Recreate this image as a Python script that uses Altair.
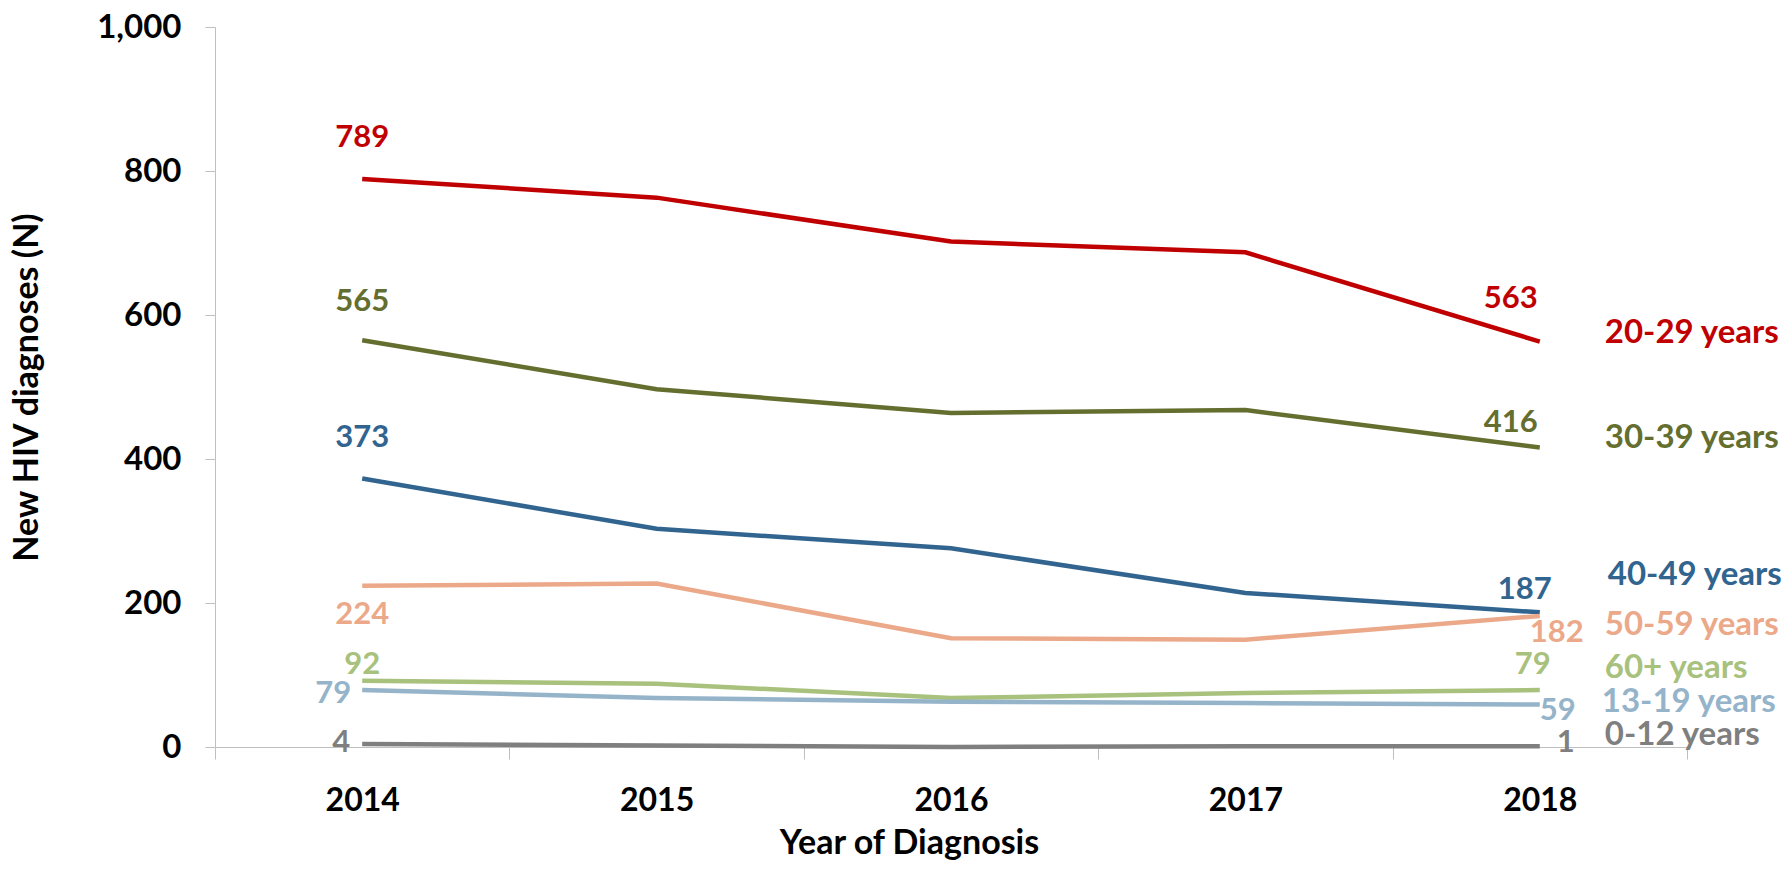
import altair as alt
import pandas as pd

years = ["2014", "2015", "2016", "2017", "2018"]
series = ["20-29 years", "30-39 years", "40-49 years", "50-59 years",
          "60+ years", "13-19 years", "0-12 years"]
v_20_29 = [789, 763, 702, 687, 563]
v_30_39 = [565, 497, 464, 468, 416]
v_40_49 = [373, 303, 276, 214, 187]
v_50_59 = [224, 227, 151, 149, 182]
v_60p = [92, 88, 68, 75, 79]
v_13_19 = [79, 68, 63, 61, 59]
v_0_12 = [4, 2, 0, 1, 1]
values = [v_20_29, v_30_39, v_40_49, v_50_59, v_60p, v_13_19, v_0_12]
colors = ["#C00000", "#646E2E", "#31648F", "#ECA98A", "#A8C17C", "#95B4CA", "#7F7F7F"]
# y value (data units) at which each series name is written on the right
name_anchor = [575, 429, 239, 169, 110, 62, 17]

# pixel offsets of the value labels (first year, last year)
first_off = [(0, -41), (0, -38), (0, -40), (0, 29), (0, -16), (-29, 4), (-21, -1)]
last_off = [(-29, -43), (-29, -24), (-15, -22), (17, 17), (-7, -25), (18, 6), (26, -3)]
name_dx = [65, 65, 68, 65, 65, 62, 65]

FONT = "Lato"
rows = []
for s, vals in zip(series, values):
    for y, v in zip(years, vals):
        rows.append({"year": y, "value": v, "series": s})
df = pd.DataFrame(rows)

x_enc = alt.X("year:N", sort=years, title="Year of Diagnosis",
              scale=alt.Scale(domain=years, paddingInner=0, paddingOuter=0),
              axis=alt.Axis(labelAngle=0, tickBand="extent", tickSize=12,
                            tickColor="#BFBFBF", domainColor="#BFBFBF",
                            labelFont=FONT, labelFontSize=32, labelFontWeight="bold",
                            labelColor="black", labelPadding=26,
                            titleFont=FONT, titleFontSize=34, titleFontWeight="bold",
                            titleColor="black", titleX=694, titleY=106,
                            titleAlign="center", titleBaseline="alphabetic"))
y_enc = alt.Y("value:Q", title="New HIV diagnoses (N)",
              scale=alt.Scale(domain=[0, 1000], nice=False),
              axis=alt.Axis(values=[0, 200, 400, 600, 800, 1000], format=",d",
                            grid=False, tickSize=10, tickColor="#BFBFBF",
                            domainColor="#BFBFBF",
                            labelFont=FONT, labelFontSize=33, labelFontWeight="bold",
                            labelColor="black", labelPadding=24,
                            titleFont=FONT, titleFontSize=34, titleFontWeight="bold",
                            titleColor="black", titlePadding=52))

lines = alt.Chart(df).mark_line(strokeWidth=4.5).encode(
    x=x_enc, y=y_enc,
    color=alt.Color("series:N", scale=alt.Scale(domain=series, range=colors), legend=None),
    detail="series:N",
)

layers = [lines]
for i, (s, vals) in enumerate(zip(series, values)):
    for (y, v, (dx, dy)) in [(years[0], vals[0], first_off[i]), (years[-1], vals[-1], last_off[i])]:
        d = pd.DataFrame({"year": [y], "value": [v], "label": [str(v)]})
        layers.append(alt.Chart(d).mark_text(
            font=FONT, fontSize=31, fontWeight="bold", color=colors[i],
            align="center", baseline="middle", dx=dx, dy=dy
        ).encode(x=alt.X("year:N", sort=years), y="value:Q", text="label:N"))
    d2 = pd.DataFrame({"year": [years[-1]], "value": [name_anchor[i]], "label": [s]})
    layers.append(alt.Chart(d2).mark_text(
        font=FONT, fontSize=33, fontWeight="bold", color=colors[i],
        align="left", baseline="middle", dx=name_dx[i]
    ).encode(x=alt.X("year:N", sort=years), y="value:Q", text="label:N"))

chart = alt.layer(*layers).properties(
    width=1472, height=720,
    autosize=alt.AutoSizeParams(type="none"),
    padding={"left": 207, "top": 19, "right": 94, "bottom": 115},
).configure_view(stroke=None)

chart.save("out.html", embed_options={"renderer": "svg", "actions": False})
